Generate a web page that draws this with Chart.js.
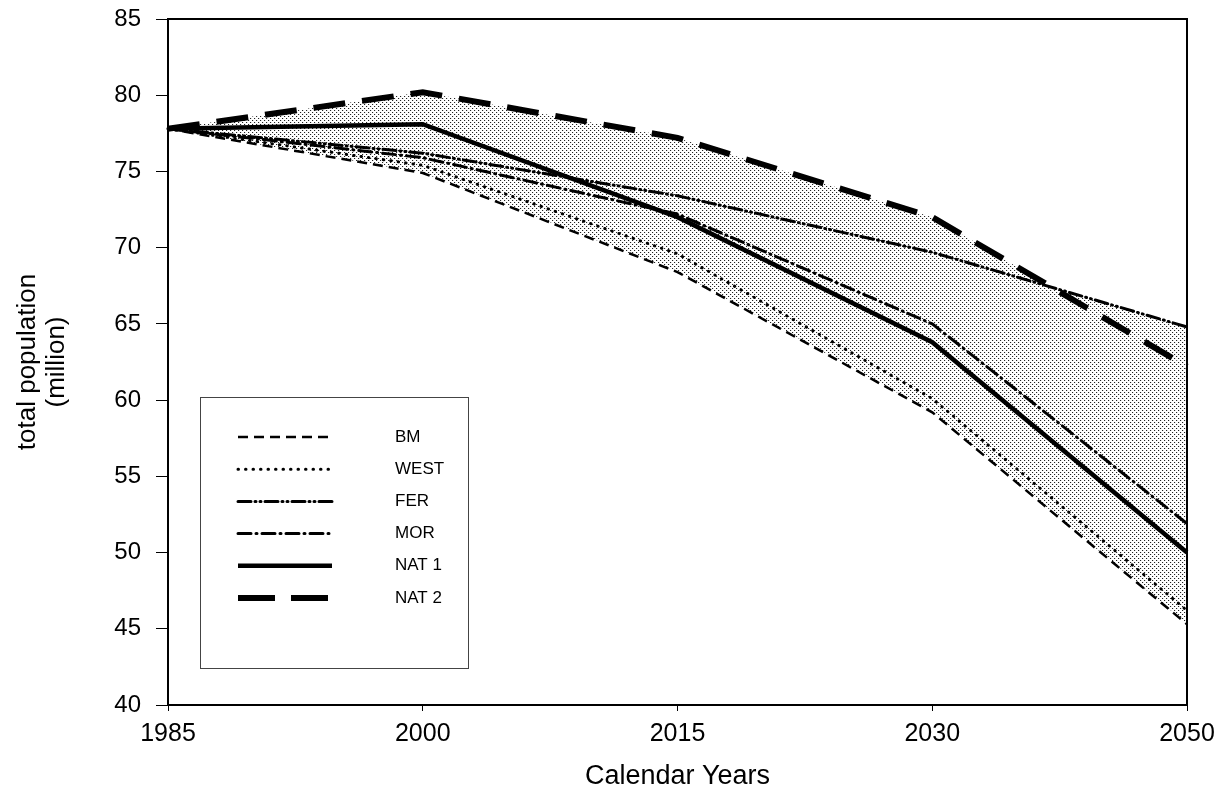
<!DOCTYPE html>
<html>
<head>
<meta charset="utf-8">
<script src="https://cdn.jsdelivr.net/npm/chart.js@4/dist/chart.umd.min.js"></script>
<style>
  body { margin: 0; background: #fff; }
  #wrap { width: 1227px; height: 793px; }
</style>
</head>
<body>
<div id="wrap"><canvas id="chart"></canvas></div>
<script>
// values (million)
const years = ['1985', '2000', '2015', '2030', '2050'];
const bm   = [77.8, 74.9, 68.4, 59.2, 45.3];
const west = [77.8, 75.4, 69.6, 60.1, 46.2];
const fer  = [77.8, 76.2, 73.4, 69.7, 64.8];
const mor  = [77.8, 75.9, 72.2, 65.0, 51.9];
const nat1 = [77.8, 78.1, 72.0, 63.8, 50.0];
const nat2 = [77.8, 80.2, 77.2, 72.0, 62.2];
const yTicks = [40, 45, 50, 55, 60, 65, 70, 75, 80, 85];

const FONT = "'Liberation Sans', Arial, sans-serif";

// halftone dots for the shaded band
function dotPattern() {
  const c = document.createElement('canvas');
  c.width = 4; c.height = 4;
  const g = c.getContext('2d');
  g.fillStyle = '#222';
  g.fillRect(0, 0, 1, 1);
  g.fillRect(2, 2, 1, 1);
  g.fillStyle = 'rgba(0,0,0,0.12)';
  g.fillRect(1, 0, 1, 1);
  g.fillRect(3, 2, 1, 1);
  return document.getElementById('chart').getContext('2d').createPattern(c, 'repeat');
}
const shade = dotPattern();

const frame = {
  id: 'frame',
  afterDatasetsDraw(chart) {
    const { ctx, chartArea: a } = chart;
    ctx.save();
    ctx.strokeStyle = '#000';
    ctx.lineWidth = 2;
    ctx.strokeRect(a.left, a.top, a.right - a.left, a.bottom - a.top);
    ctx.restore();
  }
};

const boxLegend = {
  id: 'boxLegend',
  afterDraw(chart) {
    const { ctx, chartArea: a } = chart;
    const x0 = a.left + 32, y0 = 397, w = 268, h = 271;
    ctx.save();
    ctx.fillStyle = '#fff';
    ctx.fillRect(x0, y0, w, h);
    ctx.strokeStyle = '#444';
    ctx.lineWidth = 1;
    ctx.strokeRect(x0 + 0.5, y0 + 0.5, w, h);
    ctx.font = '17px ' + FONT;
    ctx.textBaseline = 'middle';
    chart.data.datasets.forEach((ds, i) => {
      if (!ds.label) return;
      const y = 437 + i * 32.2;
      ctx.strokeStyle = '#000';
      ctx.lineWidth = ds.borderWidth;
      ctx.lineCap = ds.borderCapStyle || 'butt';
      ctx.setLineDash(ds.legendDash || ds.borderDash || []);
      ctx.beginPath();
      ctx.moveTo(x0 + 38, y);
      ctx.lineTo(x0 + 132, y);
      ctx.stroke();
      ctx.setLineDash([]);
      ctx.fillStyle = '#000';
      ctx.fillText(ds.label, x0 + 195, y);
    });
    ctx.restore();
  }
};

new Chart(document.getElementById('chart'), {
  type: 'line',
  data: {
    labels: years,
    datasets: [
      { label: 'BM', data: bm, borderColor: '#000', borderWidth: 2.5, borderDash: [10, 6] },
      { label: 'WEST', data: west, borderColor: '#000', borderWidth: 3, borderDash: [0.5, 7], borderCapStyle: 'round' },
      { label: 'FER', data: fer, borderColor: '#000', borderWidth: 3, borderDash: [13, 4, 1, 4, 1, 4], borderCapStyle: 'round',
        fill: { target: 5, above: shade, below: 'rgba(0,0,0,0)' } },
      { label: 'MOR', data: mor, borderColor: '#000', borderWidth: 3, borderDash: [13, 5, 1, 5], borderCapStyle: 'round' },
      { label: 'NAT 1', data: nat1, borderColor: '#000', borderWidth: 4.5 },
      { label: 'NAT 2', data: nat2, borderColor: '#000', borderWidth: 6, borderDash: [32, 17], legendDash: [37, 16],
        fill: { target: 0, above: shade, below: 'rgba(0,0,0,0)' } }
    ]
  },
  options: {
    responsive: true,
    maintainAspectRatio: false,
    animation: false,
    layout: { padding: { top: 19, right: 40, left: 0, bottom: 0 } },
    elements: { point: { radius: 0 }, line: { tension: 0 } },
    plugins: {
      legend: { display: false },
      tooltip: { enabled: false },
      filler: { drawTime: 'beforeDatasetsDraw' }
    },
    scales: {
      x: {
        type: 'category',
        offset: false,
        grid: { display: true, drawOnChartArea: false, drawTicks: true, tickLength: 6, color: '#000', lineWidth: 1 },
        border: { display: true, color: '#000', width: 2 },
        ticks: { color: '#000', font: { family: FONT, size: 25 }, padding: 8, maxRotation: 0, autoSkip: false },
        title: { display: true, text: 'Calendar Years', color: '#000', font: { family: FONT, size: 27 }, padding: { top: 4, bottom: 0 } },
        afterFit(scale) { scale.height = 88; }
      },
      y: {
        min: 40,
        max: 85,
        grid: { display: true, drawOnChartArea: false, drawTicks: true, tickLength: 12, color: '#000', lineWidth: 1 },
        border: { display: true, color: '#000', width: 2 },
        afterBuildTicks(scale) { scale.ticks = yTicks.map(v => ({ value: v })); },
        ticks: { color: '#000', font: { family: FONT, size: 24 }, padding: 15 },
        title: { display: true, text: ['total population', '(million)'], color: '#000', font: { family: FONT, size: 26, lineHeight: 1.1 }, padding: { top: 14, bottom: 6 } },
        afterFit(scale) {
          scale.width = 168;
          scale.paddingTop = 0;
          scale.paddingBottom = 0;
        }
      }
    }
  },
  plugins: [frame, boxLegend]
});
</script>
</body>
</html>
